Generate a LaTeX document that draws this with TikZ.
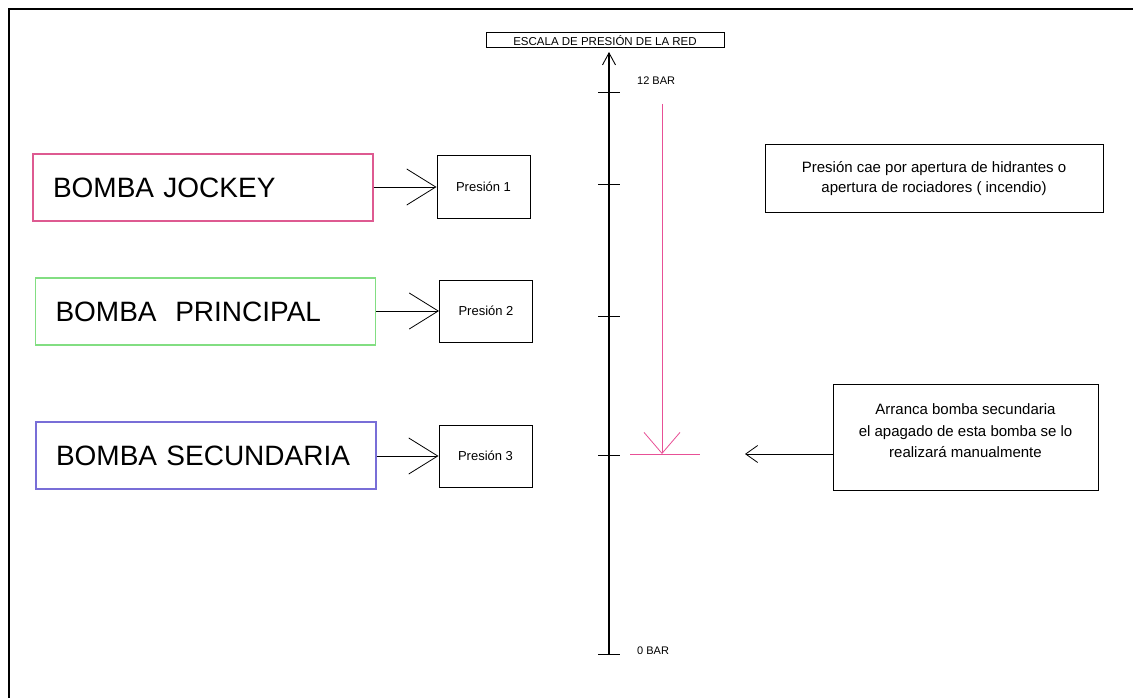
\documentclass[tikz,border=0pt]{standalone}
\usepackage{fontspec}
\setmainfont{Liberation Sans}
\usetikzlibrary{arrows.meta}
\definecolor{jockeyc}{RGB}{222,90,145}
\definecolor{princc}{RGB}{130,222,130}
\definecolor{secc}{RGB}{120,110,215}
\definecolor{dropc}{RGB}{232,80,150}
\begin{document}
\begin{tikzpicture}[x=1pt,y=-1pt,
  pump/.style={draw, line width=1.2pt, text width=300pt, inner xsep=20pt, inner ysep=0pt,
    align=left, minimum height=67pt, font=\fontsize{28}{32}\selectfont},
  pbox/.style={draw, line width=1pt, minimum width=93pt, minimum height=62pt, inner sep=0pt,
    font=\fontsize{13}{15}\selectfont},
  note/.style={draw, line width=1pt, inner sep=0pt, align=center,
    font=\fontsize{15}{20}\selectfont},
  feed/.style={line width=0.9pt, -{Straight Barb[length=29pt,width=36pt,line width=0.8pt]}},
  tick/.style={line width=1pt},
  lbl/.style={font=\fontsize{11}{13}\selectfont, inner sep=0pt, anchor=west}]
\useasboundingbox (0,0) rectangle (1133,698);
\fill[white] (0,0) rectangle (1133,698);
% outer frame
\draw[line width=2.2pt] (9,698) -- (9,9) -- (1133,9);

% pumps and their pressure set points
\node[pump, draw=jockeyc] (jk) at (203,187.5) {BOMBA JOCKEY};
\node[pump, draw=princc] (pr) at (205.5,311.5) {BOMBA\ \ PRINCIPAL};
\node[pump, draw=secc] (sc) at (206,455.5) {BOMBA SECUNDARIA};
\node[pbox] (p1) at (483.5,187) {Presión 1};
\node[pbox] (p2) at (486,311) {Presión 2};
\node[pbox] (p3) at (485.5,456) {Presión 3};
\draw[feed] (jk.east |- p1.west) -- (p1.west);
\draw[feed] (pr.east |- p2.west) -- (p2.west);
\draw[feed] (sc.east |- p3.west) -- (p3.west);

% network pressure scale
\node[draw, line width=1pt, minimum width=238pt, minimum height=15pt, inner sep=0pt,
  font=\fontsize{11.5}{13}\selectfont] (ttl) at (605,40.5) {ESCALA DE PRESIÓN DE LA RED};
\coordinate (axb) at (609,654);
\coordinate (axt) at (609,52);
\draw[line width=1.2pt, -{Straight Barb[length=12pt,width=13pt,line width=0.9pt]}] (axb) -- (axt);
\foreach \t/\n in {93/t12, 185/t1, 316/t2, 455/t3, 654/t0}{
  \coordinate (\n) at (609,\t);
  \draw[tick] ([xshift=-11pt]\n) -- ([xshift=11pt]\n);
}
\node[lbl] (b12) at (637,81) {12 BAR};
\node[lbl] (b0) at (637,651) {0 BAR};

% pressure drop down to the secondary pump set point
\coordinate (dtop) at (662,104);
\coordinate (dbot) at (662,454);
\draw[dropc, line width=1pt, -{Straight Barb[length=21pt,width=36pt,line width=0.8pt]}] (dtop) -- (dbot);
\draw[dropc, line width=1pt] ([xshift=-32pt]dbot) -- ([xshift=38pt]dbot);

% notes
\node[note, minimum width=338pt, minimum height=67pt] (drop) at (934,178.5)
  {Presión cae por apertura de hidrantes o\\apertura de rociadores ( incendio)};
\node[draw, line width=1pt, minimum width=265pt, minimum height=106pt, inner sep=0pt] (arr) at (965.5,437) {};
\node[align=center, inner sep=0pt, font=\fontsize{15}{21.5}\selectfont] (arrtxt) at (965.5,431)
  {Arranca bomba secundaria\\el apagado de esta bomba se lo\\realizará manualmente};
\coordinate (arrtip) at (745,454);
\draw[line width=1pt, -{Straight Barb[length=12pt,width=17pt,line width=0.8pt]}] (arrtip -| arr.west) -- (arrtip);
\end{tikzpicture}
\end{document}
